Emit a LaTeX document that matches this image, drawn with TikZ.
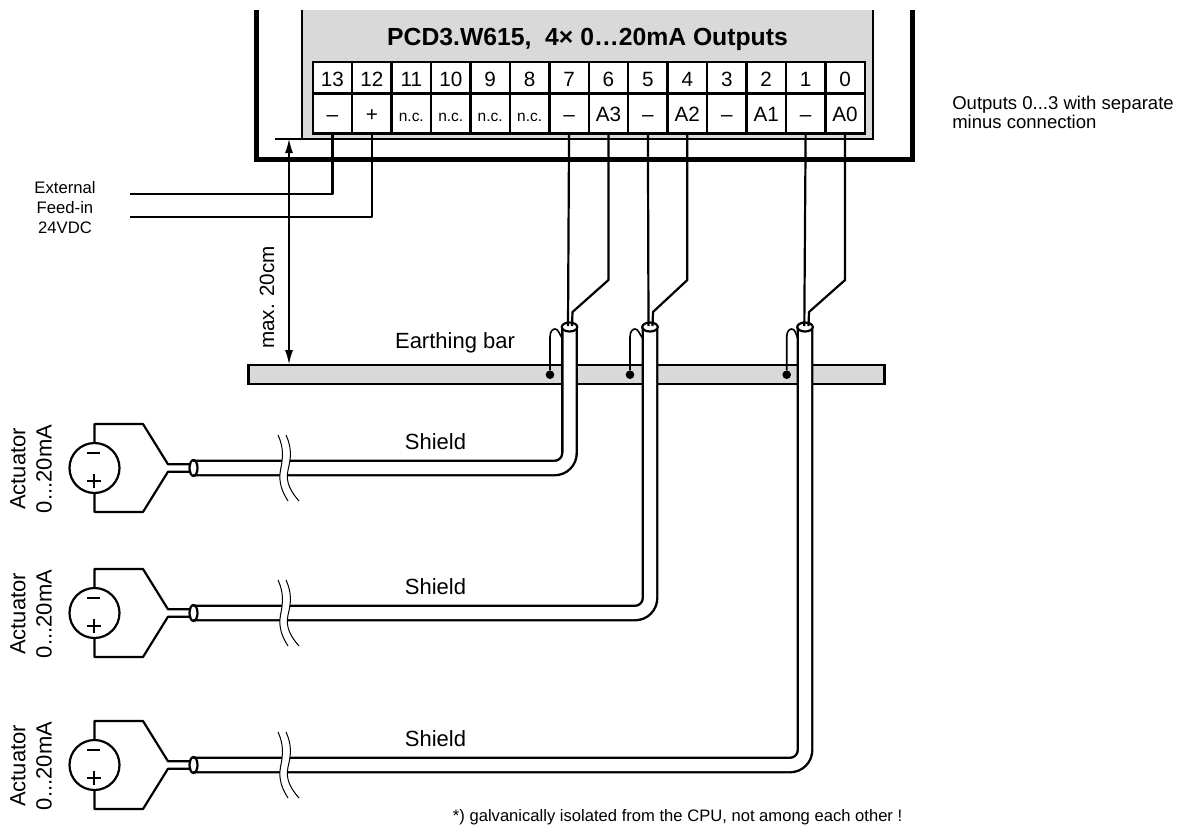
\documentclass[tikz,border=0pt]{standalone}
\usepackage{fontspec}
\setmainfont{Liberation Sans}
\usetikzlibrary{shapes.geometric,arrows.meta}
\def\px{0.75pt}
\definecolor{panelgrey}{HTML}{D9D9D9}
\tikzset{
 wire/.style={line width=2.2*\px,black,line join=round},
 frame/.style={line width=5*\px,black},
 cell/.style={draw=black,fill=white,line width=2.5*\px,inner sep=0,minimum width=39.43*\px,anchor=north west,font=\fontsize{15.5}{15.5}\selectfont,text height=12.8pt,text depth=0pt},
 numcell/.style={cell,minimum height=31*\px},
 sigcell/.style={cell,minimum height=40*\px},
 cable/.style={line width=2.4*\px,double=white,double distance=12*\px,rounded corners=15*\px,black},
 capv/.style={ellipse,draw=black,fill=white,line width=2.2*\px,inner sep=0,minimum width=15.5*\px,minimum height=9*\px},
 caph/.style={ellipse,draw=black,line width=2.2*\px,inner sep=0,minimum width=8*\px,minimum height=16*\px},
 dot/.style={circle,fill=black,inner sep=0,minimum size=8.6*\px},
 source/.style={circle,draw=black,line width=2.2*\px,inner sep=0,minimum size=50*\px},
 breakline/.style={line width=1*\px},
 txt/.style={inner sep=0,font=\fontsize{16.5}{18}\selectfont},
 small/.style={inner sep=0,font=\fontsize{12.5}{15}\selectfont,align=center},
}
\begin{document}
\begin{tikzpicture}[x=\px,y=-\px]
\useasboundingbox (0,0) rectangle (1180,824);
% housing
\draw[frame] (256,10) -- (256,159) -- (912,159) -- (912,10);
\fill[panelgrey] (302,10) rectangle (873,139);
\draw[line width=2.5*\px] (302,10) -- (302,139) -- (873,139) -- (873,10);
\node[inner sep=0,anchor=base,font=\bfseries\fontsize{18.55}{18}\selectfont] (title) at (587.5,45.7) {PCD3.W615,\ \ 4× 0…20mA Outputs};
% terminals
\foreach \i/\a/\b/\f in {0/13/–/,1/12/+/,2/11/n.c./\fontsize{11.6}{11.6}\selectfont,3/10/n.c./\fontsize{11.6}{11.6}\selectfont,4/9/n.c./\fontsize{11.6}{11.6}\selectfont,5/8/n.c./\fontsize{11.6}{11.6}\selectfont,6/7/–/,7/6/A3/,8/5/–/,9/4/A2/,10/3/–/,11/2/A1/,12/1/–/,13/0/A0/}{
  \node[numcell] (n\a) at ({311.5+39.43*\i},61) {\a};
  \node[sigcell] (t\a) at ({311.5+39.43*\i},92) {\f\b};
}
% dimension
\coordinate (tickL) at (275,139);
\coordinate (tickR) at (302,139);
\draw[line width=1.2*\px] (tickL) -- (tickR);
\node[inner sep=0,font=\fontsize{15.5}{18}\selectfont,rotate=90] (maxlen) at (267,297.5) {max. 20cm};
% earthing bar
\node[draw=black,fill=panelgrey,line width=2.2*\px,inner sep=0,minimum width=636*\px,minimum height=19*\px] (bar) at (566.5,374.7) {};
\node[txt] (earthlbl) at (455,343) {Earthing bar};
\coordinate (dimtop) at (289,139);
\draw[{Latex[length=10.5pt,width=6pt]}-{Latex[length=10.5pt,width=6pt]},line width=1.2*\px] (dimtop) -- (bar.north -| dimtop);
% channels
\foreach \c/\cx/\dx/\cy/\tm/\ta/\wm/\bx in {1/569.5/550/468/7/6/568/572.5,2/650/630/613/5/4/648.5/653,3/805/786.7/765/1/0/804.3/809}{
  \draw[cable] (\cx,327) -- (\cx,\cy) -- (193,\cy);
  \node[capv] (cap\c) at (\cx,327) {};
  \node[caph] (end\c) at (193.5,\cy) {};
  % wires to the module
  \coordinate (in\c) at (\wm,326);
  \coordinate (bend\c) at (\bx,312);
  \coordinate (out\c) at ({\bx-0.5},326);
  \draw[wire] (t\tm.south) -- (in\c);
  \draw[wire] (t\ta.south) -- (t\ta.south |- 0,280) -- (bend\c) -- (out\c);
  % shield to bar
  \node[dot] (gnd\c) at (\dx,374.7) {};
  \draw[line width=1.6*\px] (gnd\c) -- (\dx,337) .. controls (\dx,331) and ({\dx+3},329) .. ({\dx+5},329) .. controls ({\dx+8},329) and ({\dx+9},333) .. ({\cx-7.5},338);
  % source
  \node[source] (src\c) at (94.5,\cy) {};
  \draw[line width=1.8*\px] (87,{\cy-15}) -- (100,{\cy-15});
  \draw[line width=1.8*\px] (87,{\cy+13}) -- (101,{\cy+13}) (94,{\cy+6}) -- (94,{\cy+20});
  \node[txt,rotate=90] (a\c) at (18,{\cy+1}) {Actuator};
  \node[txt,rotate=90] (b\c) at (44,{\cy+1}) {0...20mA};
  \coordinate (ja\c) at (168,{\cy-3.7});
  \coordinate (jb\c) at (168,{\cy+3.7});
  \draw[wire] (src\c.north) -- (94.5,{\cy-44}) -- (143,{\cy-44}) -- (ja\c) -- (191,{\cy-3.7});
  \draw[wire] (src\c.south) -- (94.5,{\cy+44}) -- (143,{\cy+44}) -- (jb\c) -- (191,{\cy+3.7});
  % cable break
  \fill[white] (278,{\cy-33}) .. controls (284,{\cy-20}) and (283,{\cy-10}) .. (280.5,{\cy+2}) .. controls (278,{\cy+15}) and (283,{\cy+25}) .. (288,{\cy+33}) -- (299,{\cy+33}) .. controls (292,{\cy+25}) and (285,{\cy+15}) .. (288,{\cy+2}) .. controls (291,{\cy-10}) and (292,{\cy-20}) .. (286,{\cy-33}) -- cycle;
  \draw[breakline] (278,{\cy-33}) .. controls (284,{\cy-20}) and (283,{\cy-10}) .. (280.5,{\cy+2}) .. controls (278,{\cy+15}) and (283,{\cy+25}) .. (288,{\cy+33});
  \draw[breakline] (286,{\cy-33}) .. controls (292,{\cy-20}) and (291,{\cy-10}) .. (288,{\cy+2}) .. controls (285,{\cy+15}) and (292,{\cy+25}) .. (299,{\cy+33});
  \node[txt,anchor=base] (sh\c) at (435.5,{\cy-18.5}) {Shield};
}
% feed-in
\coordinate (feedA) at (130,193.7);
\coordinate (feedB) at (130,217.3);
\draw[wire] (t13.south) -- (t13.south |- feedA) -- (feedA);
\draw[wire] (t12.south) -- (t12.south |- feedB) -- (feedB);
\node[small] (feedlbl) at (65,208) {External\\Feed-in\\24VDC};
\node[inner sep=0,font=\fontsize{13.9}{14.3}\selectfont,align=left,anchor=north west] (note) at (952,96) {Outputs 0...3 with separate\\minus connection};
\node[inner sep=0,font=\fontsize{12.45}{15}\selectfont,anchor=base west] (foot) at (452.7,821) {*) galvanically isolated from the CPU, not among each other !};
\end{tikzpicture}
\end{document}
